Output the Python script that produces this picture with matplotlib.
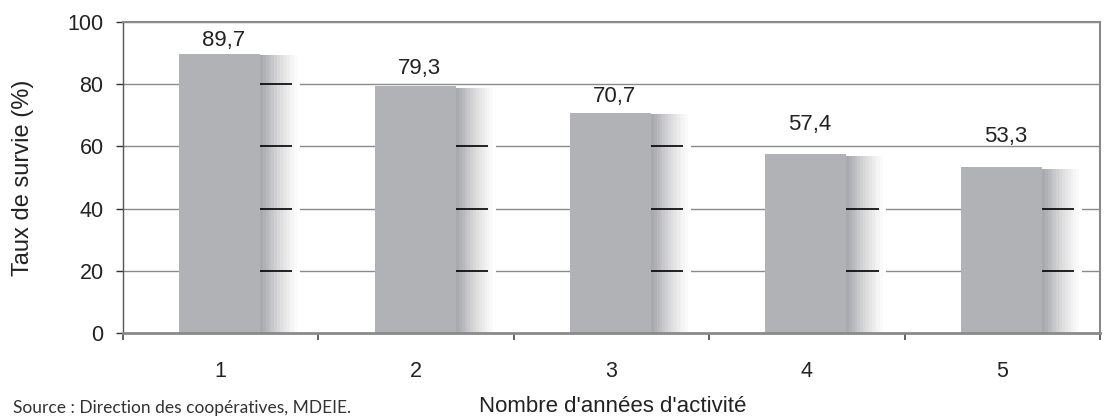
import numpy as np
import matplotlib.pyplot as plt
from matplotlib.colors import LinearSegmentedColormap

# Taux de survie des coopératives selon le nombre d'années d'activité
years = [1, 2, 3, 4, 5]
survival = [89.7, 79.3, 70.7, 57.4, 53.3]
value_labels = ["89,7", "79,3", "70,7", "57,4", "53,3"]
label_lift = [4.5, 5.9, 5.5, 9.8, 10.0]

plt.rcParams['font.family'] = ['Liberation Sans', 'DejaVu Sans']

fig = plt.figure(figsize=(11.05, 4.2), dpi=100)
ax = fig.add_axes([0.1113, 0.2071, 0.8842, 0.7405])

bar_color = "#b1b2b6"
solid_w = 0.415
shade_w = 0.20
grid_vals = [20, 40, 60, 80, 100]

# grid lines behind the bars
for g in grid_vals:
    ax.axhline(g, color="#8a8a8a", lw=1.0, zorder=0)

# solid part of each bar
ax.bar(np.array(years) - 0.005, survival, width=solid_w, color=bar_color,
       edgecolor="none", zorder=2)

# shaded "depth" part to the right of each bar
shade = LinearSegmentedColormap.from_list(
    "shade", ["#a9aaae", "#c2c3c6", "#dcdcde", "#f0f0f1", "#ffffff"], N=14)
grad = np.linspace(0, 1, 200).reshape(1, -1)
for x, v in zip(years, survival):
    x0 = x - 0.005 + solid_w / 2
    top = v - 0.6
    ax.imshow(grad, cmap=shade, aspect="auto", extent=[x0, x0 + shade_w, 0, top],
              zorder=2, interpolation="nearest")
    for g in grid_vals:
        if g < top:
            ax.plot([x0, x0 + shade_w * 0.82], [g, g], color="black", lw=1.2,
                    zorder=3, solid_capstyle="butt")

for x, v, lab, d in zip(years, survival, value_labels, label_lift):
    ax.text(x + 0.015, v + d, lab, ha="center", va="center", fontsize=16,
            color="#222222", zorder=4)

ax.set_xlim(0.5, 5.5)
ax.set_ylim(0, 100)
ax.set_yticks([0, 20, 40, 60, 80, 100])
ax.set_xticks(years)
ax.set_xticklabels([str(y) for y in years])
ax.set_xticks(np.arange(0.5, 5.6, 1.0), minor=True)
ax.tick_params(axis="x", which="major", length=0, pad=20, labelsize=15.5,
               labelcolor="#222222")
ax.tick_params(axis="x", which="minor", length=5, width=1.3, color="#555555",
               direction="out")
ax.tick_params(axis="y", length=5, width=1.0, color="#333333", pad=9,
               labelsize=15.5, labelcolor="#222222")

ax.spines["left"].set_color("#555555")
ax.spines["left"].set_linewidth(1.0)
ax.spines["bottom"].set_color("#8a8a8a")
ax.spines["bottom"].set_linewidth(2.0)
ax.spines["top"].set_color("#8a8a8a")
ax.spines["top"].set_linewidth(1.5)
ax.spines["right"].set_color("#8a8a8a")
ax.spines["right"].set_linewidth(1.5)
for s in ax.spines.values():
    s.set_zorder(5)

ax.set_ylabel("Taux de survie (%)", fontsize=17, color="#222222", labelpad=24)

fig.text(613 / 1105, 13 / 420, "Nombre d'années d'activité", ha="center",
         va="center", fontsize=16, color="#222222")
fig.text(13 / 1105, 12 / 420, "Source : Direction des coopératives, MDEIE.",
         ha="left", va="center", fontsize=12.5, color="#333333",
         family=["Lato", "DejaVu Sans"])

fig.savefig("out.png", dpi=100)
